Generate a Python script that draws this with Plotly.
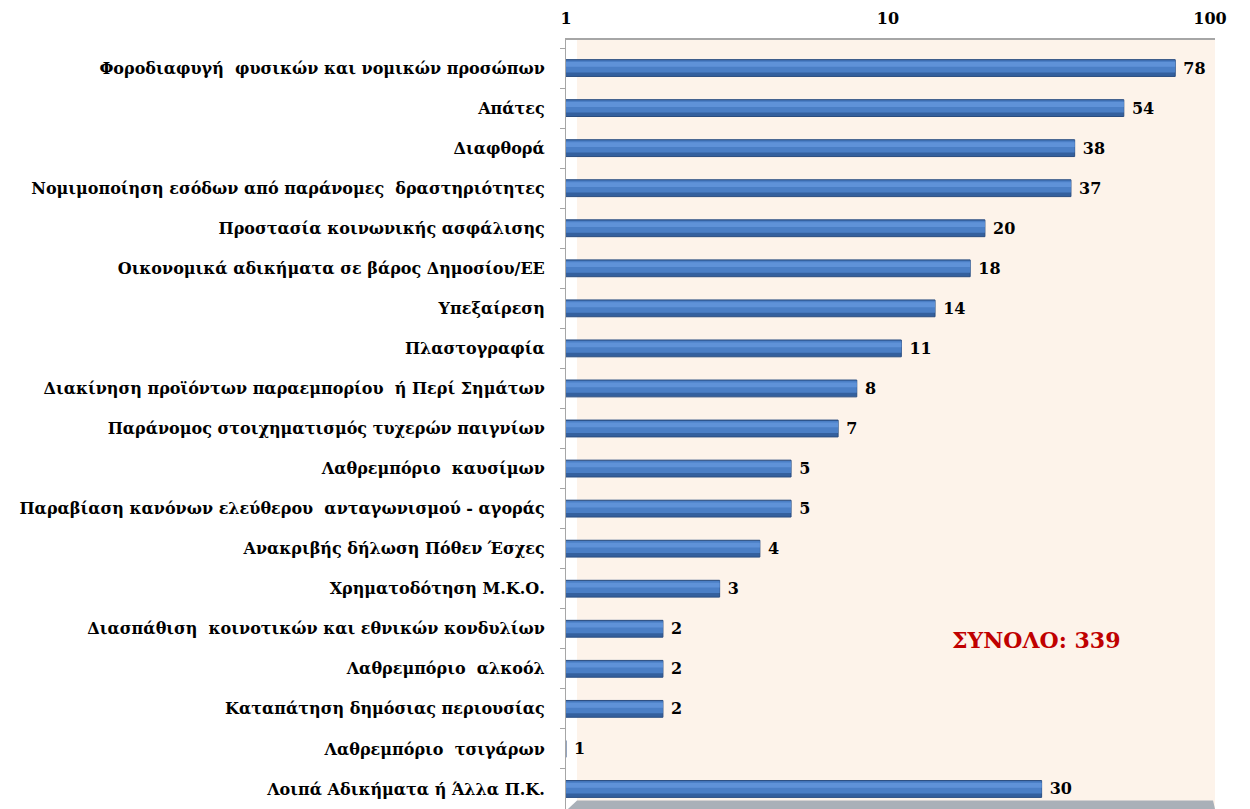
import plotly.graph_objects as go

categories = [
    "Φοροδιαφυγή  φυσικών και νομικών προσώπων",
    "Απάτες",
    "Διαφθορά",
    "Νομιμοποίηση εσόδων από παράνομες  δραστηριότητες",
    "Προστασία κοινωνικής ασφάλισης",
    "Οικονομικά αδικήματα σε βάρος Δημοσίου/ΕΕ",
    "Υπεξαίρεση",
    "Πλαστογραφία",
    "Διακίνηση προϊόντων παραεμπορίου  ή Περί Σημάτων",
    "Παράνομος στοιχηματισμός τυχερών παιγνίων",
    "Λαθρεμπόριο  καυσίμων",
    "Παραβίαση κανόνων ελεύθερου  ανταγωνισμού - αγοράς",
    "Ανακριβής δήλωση Πόθεν Έσχες",
    "Χρηματοδότηση Μ.Κ.Ο.",
    "Διασπάθιση  κοινοτικών και εθνικών κονδυλίων",
    "Λαθρεμπόριο  αλκοόλ",
    "Καταπάτηση δημόσιας περιουσίας",
    "Λαθρεμπόριο  τσιγάρων",
    "Λοιπά Αδικήματα ή Άλλα Π.Κ.",
]
values = [78, 54, 38, 37, 20, 18, 14, 11, 8, 7, 5, 5, 4, 3, 2, 2, 2, 1, 30]
total_label = "ΣΥΝΟΛΟ: 339"
x_ticks = [1, 10, 100]

serif = "DejaVu Serif"

fig = go.Figure()
# dark outer body of the cylinder
fig.add_trace(go.Bar(
    y=categories, x=values, orientation="h",
    width=0.42,
    marker=dict(color="#34609E", line=dict(color="#2A4D80", width=1)),
    text=["\u00a0<b>%d</b>" % v for v in values], textposition="outside",
    constraintext="none",
    textfont=dict(family=serif, size=16, color="#000000"),
    cliponaxis=False, hoverinfo="skip", showlegend=False,
))
# mid tone
fig.add_trace(go.Bar(
    y=categories, x=values, orientation="h",
    width=0.3, offset=-0.19,
    marker=dict(color="#4B7FC6", line=dict(width=0)),
    hoverinfo="skip", showlegend=False,
))
# light highlight
fig.add_trace(go.Bar(
    y=categories, x=values, orientation="h",
    width=0.12, offset=-0.15,
    marker=dict(color="#5F92D8", line=dict(width=0)),
    hoverinfo="skip", showlegend=False,
))

fig.add_annotation(
    x=0.724, y=0.22, xref="paper", yref="paper",
    xanchor="center", yanchor="middle",
    text="<b>" + total_label + "</b>", showarrow=False,
    font=dict(family=serif, size=22, color="#C00000"),
)

# white strip between the axis and the back wall
fig.add_shape(type="rect", xref="paper", yref="paper",
              x0=0, x1=0.017, y0=0, y1=1,
              fillcolor="white", line=dict(width=0), layer="below")
# grey floor at the bottom
fig.add_shape(type="path", xref="paper", yref="paper",
              path="M 0.003,0 L 1.0,0 L 0.997,0.011 L 0.017,0.011 Z",
              fillcolor="#A9B0B8", line=dict(width=0), layer="below")

fig.update_layout(
    width=1250, height=809,
    margin=dict(l=558, r=43, t=32, b=8),
    paper_bgcolor="white", plot_bgcolor="#FDF3EA",
    barmode="overlay",
    font=dict(family=serif, size=16, color="#000000"),
    xaxis=dict(
        type="log", side="top", range=[0, 2.0156],
        tickvals=x_ticks, ticktext=["<b>%d</b>" % t for t in x_ticks],
        tickfont=dict(family=serif, size=16, color="#000000"),
        showgrid=False, zeroline=False,
        showline=True, linecolor="#A6A6A6", linewidth=2,
        ticks="", ticklabelstandoff=8, automargin=False,
    ),
    yaxis=dict(
        categoryorder="array", categoryarray=categories,
        range=[18.5, -0.7],
        tickvals=categories,
        ticktext=["<b>%s</b>" % c for c in categories],
        tickfont=dict(family=serif, size=16, color="#000000"),
        showgrid=False, zeroline=False,
        showline=True, linecolor="#A6A6A6", linewidth=1,
        ticks="outside", ticklen=5, tickcolor="#A6A6A6",
        tickson="boundaries", ticklabelstandoff=17, automargin=False,
    ),
)

fig.write_html("out.html")
